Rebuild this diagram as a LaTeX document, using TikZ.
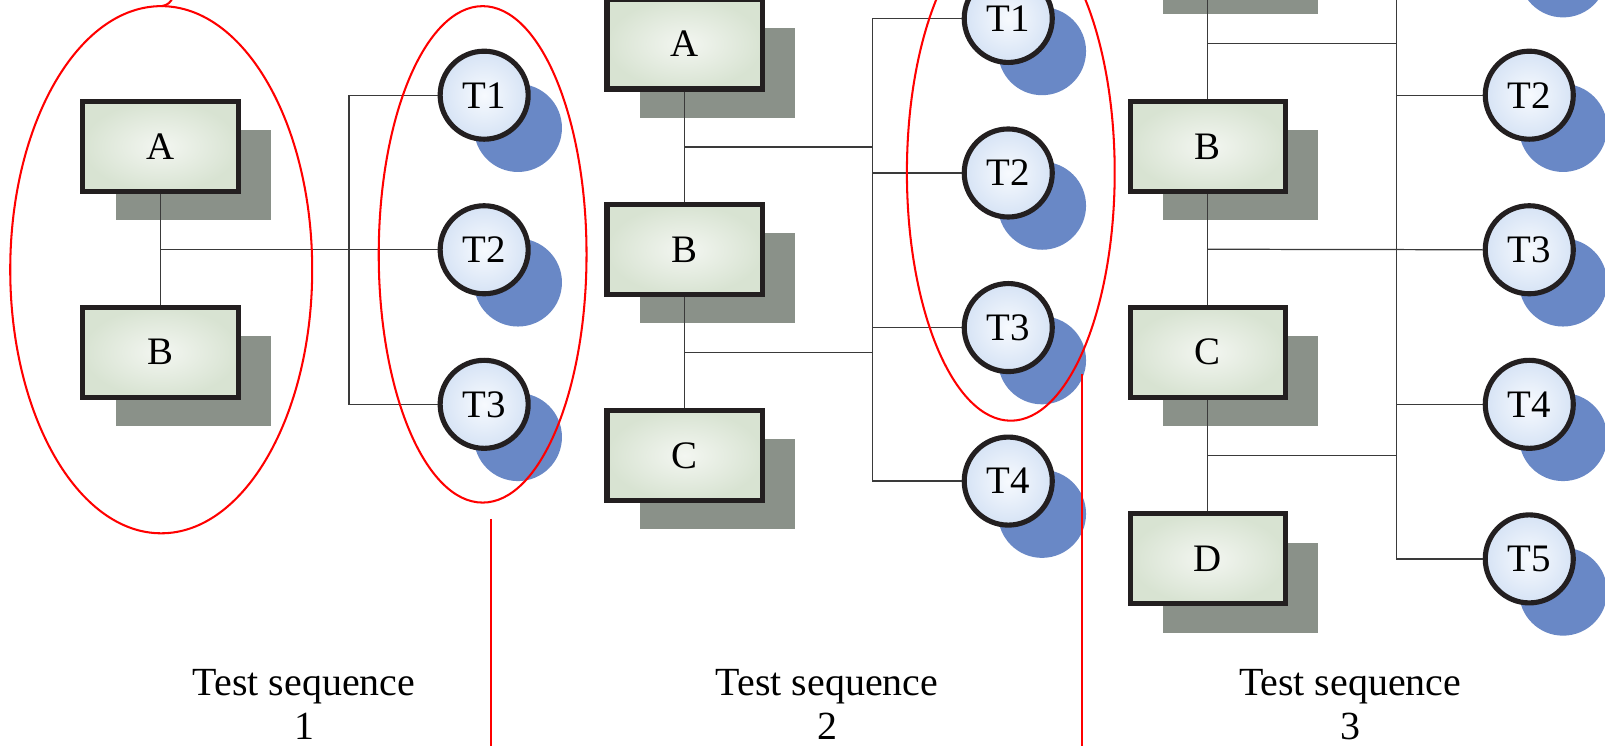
\documentclass[tikz,border=0pt]{standalone}
\usepackage{fontspec}
\setmainfont{Liberation Serif}
\usetikzlibrary{shadows,calc}
\definecolor{boxborder}{HTML}{231F20}
\definecolor{boxin}{HTML}{F3F6F1}
\definecolor{boxout}{HTML}{D8E3D2}
\definecolor{shadowgray}{HTML}{8A9189}
\definecolor{circin}{HTML}{F7FAFE}
\definecolor{circout}{HTML}{D6E3F5}
\definecolor{shadowblue}{HTML}{6988C6}
\definecolor{connc}{HTML}{3A3A3A}
\tikzset{
  boxnode/.style={rectangle, draw=boxborder, line width=5pt,
    minimum width=152pt, minimum height=88pt, inner sep=0pt,
    shading=radial, inner color=boxin, outer color=boxout,
    drop shadow={shadow xshift=32pt, shadow yshift=-28pt, fill=shadowgray, opacity=1, draw=none},
    font=\fontsize{38}{43}\selectfont},
  tnode/.style={circle, draw=boxborder, line width=5pt,
    minimum size=86pt, inner sep=0pt,
    shading=radial, inner color=circin, outer color=circout,
    drop shadow={shadow xshift=33pt, shadow yshift=-32pt, fill=shadowblue, opacity=1, draw=none},
    font=\fontsize{38}{43}\selectfont},
  conn/.style={draw=connc, line width=1.2pt},
  redline/.style={draw=red, line width=2pt},
  lbl/.style={align=center, inner sep=0pt, font=\fontsize{39}{43}\selectfont}
}
\begin{document}
\begin{tikzpicture}[x=1pt,y=-1pt]
\useasboundingbox (0,0) rectangle (1568,728);
\clip (0,0) rectangle (1568,728);
\fill[white] (0,0) rectangle (1568,728);

% ---------- column 1 ----------
\node[boxnode] (A1) at (157,143) {A};
\node[boxnode] (B1) at (157,344) {B};
\node[tnode] (T11) at (473,93) {T1};
\node[tnode] (T12) at (473,244) {T2};
\node[tnode] (T13) at (473,395) {T3};
\coordinate (b1) at (341,0);
\draw[conn] (A1.south) -- (B1.north);
\draw[conn] (A1.south |- T12.west) -- (T12.west);
\draw[conn] (T11.west) -| (b1 |- T13.west) -- (T13.west);

% ---------- column 2 ----------
\node[boxnode] (A2) at (669,43) {A};
\node[boxnode] (B2) at (669,244) {B};
\node[boxnode] (C2) at (669,445) {C};
\node[tnode] (T21) at (985,18) {T1};
\node[tnode] (T22) at (985,169) {T2};
\node[tnode] (T23) at (985,320) {T3};
\node[tnode] (T24) at (985,470) {T4};
\coordinate (b2) at (852,0);
\draw[conn] (A2.south) -- (B2.north);
\draw[conn] (B2.south) -- (C2.north);
\path ($(A2.south)!.5!(B2.north)$) coordinate (m21);
\path ($(B2.south)!.5!(C2.north)$) coordinate (m22);
\draw[conn] (m21) -- (b2 |- m21);
\draw[conn] (m22) -- (b2 |- m22);
\draw[conn] (T21.west) -| (b2 |- T24.west) -- (T24.west);
\draw[conn] (T22.west) -- (b2 |- T22.west);
\draw[conn] (T23.west) -- (b2 |- T23.west);

% ---------- column 3 (top box and circle lie above the visible area) ----------
\node[boxnode] (A3) at (1180,-58) {};
\node[boxnode] (B3) at (1180,143) {B};
\node[boxnode] (C3) at (1180,344) {C};
\node[boxnode] (D3) at (1180,546) {D};
\node[tnode] (T31) at (1494,-58) {};
\node[tnode] (T32) at (1494,93) {T2};
\node[tnode] (T33) at (1494,244) {T3};
\node[tnode] (T34) at (1494,395) {T4};
\node[tnode] (T35) at (1494,546) {T5};
\coordinate (b3) at (1364,0);
\draw[conn] (A3.south) -- (B3.north);
\draw[conn] (B3.south) -- (C3.north);
\draw[conn] (C3.south) -- (D3.north);
\path ($(A3.south)!.5!(B3.north)$) coordinate (m31);
\path ($(B3.south)!.5!(C3.north)$) coordinate (m32);
\path ($(C3.south)!.5!(D3.north)$) coordinate (m33);
\draw[conn] (m31) -- (b3 |- m31);
\draw[conn] (m32 -| B3.south) -- (T33.west);
\draw[conn] (m33) -- (b3 |- m33);
\draw[conn] (T31.west) -| (b3 |- T35.west) -- (T35.west);
\draw[conn] (T32.west) -- (b3 |- T32.west);
\draw[conn] (T34.west) -- (b3 |- T34.west);

% ---------- labels ----------
\node[lbl] (s1) at (297,688) {Test sequence\\1};
\node[lbl] (s2) at (808,688) {Test sequence\\2};
\node[lbl] (s3) at (1319,688) {Test sequence\\3};

% ---------- red marks ----------
\draw[redline] (157.5,263.5) ellipse [x radius=147.5pt, y radius=257.5pt];
\draw[redline] (158,6) .. controls (164,5) and (167,2) .. (169,-3);
\draw[redline] (471.5,248.5) ellipse [x radius=101.5pt, y radius=242.5pt];
\draw[redline] (987.5,168.5) ellipse [x radius=101.5pt, y radius=242.5pt];
\coordinate (r1) at (480,507);
\coordinate (r2) at (1057,365);
\draw[redline] (r1) -- (r1 |- 0,740);
\draw[redline] (r2) -- (r2 |- 0,740);
\end{tikzpicture}
\end{document}
